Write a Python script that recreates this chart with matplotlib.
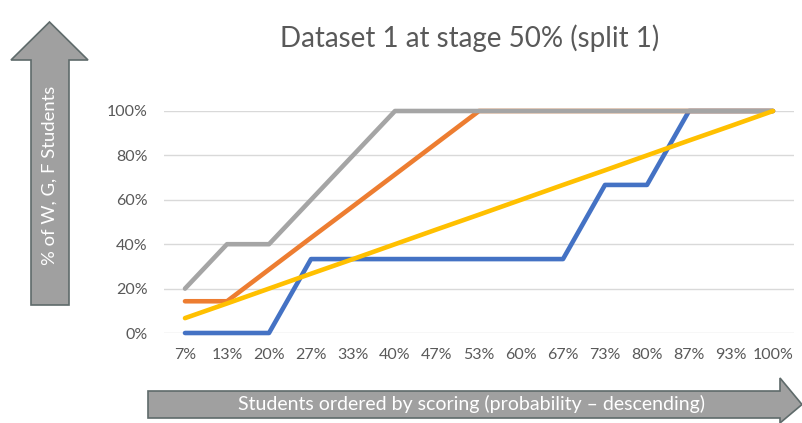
import matplotlib.pyplot as plt
from matplotlib.patches import Polygon

plt.rcParams['font.family'] = ['Lato', 'DejaVu Sans']

cats = ['7%', '13%', '20%', '27%', '33%', '40%', '47%', '53%', '60%', '67%',
        '73%', '80%', '87%', '93%', '100%']
blue = [0, 0, 0, 33.3, 33.3, 33.3, 33.3, 33.3, 33.3, 33.3, 66.7, 66.7, 100, 100, 100]
orange = [14.3, 14.3, 28.6, 42.9, 57.1, 71.4, 85.7, 100, 100, 100, 100, 100, 100, 100, 100]
grey = [20, 40, 40, 60, 80, 100, 100, 100, 100, 100, 100, 100, 100, 100, 100]
yellow = [6.7, 13.3, 20, 26.7, 33.3, 40, 46.7, 53.3, 60, 66.7, 73.3, 80, 86.7, 93.3, 100]

W, H = 803, 423
fig = plt.figure(figsize=(W/100, H/100), dpi=100)

# plot area in pixel coords
x0, x1, ytop, ybot = 164, 794, 111, 333
ax = fig.add_axes([x0/W, (H-ybot)/H, (x1-x0)/W, (ybot-ytop)/H])
x = list(range(len(cats)))
for s, c in [(blue, '#4472C4'), (orange, '#ED7D31'), (grey, '#A5A5A5'), (yellow, '#FFC000')]:
    ax.plot(x, s, color=c, lw=3.3, solid_capstyle='round', solid_joinstyle='round', clip_on=False, zorder=3)
ax.set_xlim(-0.5, len(cats)-0.5)
ax.set_ylim(0, 100)
ax.set_yticks([0, 20, 40, 60, 80, 100])
ax.set_yticklabels(['0%', '20%', '40%', '60%', '80%', '100%'])
ax.set_xticks(x)
ax.set_xticklabels(cats)
ax.tick_params(length=0, labelsize=11.5, labelcolor='#595959')
ax.tick_params(axis='y', pad=12)
ax.tick_params(axis='x', pad=11)
ax.grid(axis='y', color='#D9D9D9', lw=1)
for sp in ax.spines.values():
    sp.set_visible(False)
ax.set_axisbelow(True)

fig.text(470/W, 1-38/H, 'Dataset 1 at stage 50% (split 1)', ha='center', va='center',
         fontsize=20, color='#595959')

# arrows overlay
ov = fig.add_axes([0, 0, 1, 1])
ov.set_xlim(0, W)
ov.set_ylim(H, 0)
ov.axis('off')
up = [(31, 305), (31, 60), (11, 60), (49.5, 22), (88, 60), (69, 60), (69, 305)]
ov.add_patch(Polygon(up, closed=True, fc='#A0A0A0', ec='#5F6B6B', lw=1.2))
ov.text(50, 175, '% of W, G, F Students', rotation=90, ha='center', va='center',
        color='white', fontsize=13.3)
right = [(148, 391), (780, 391), (780, 378), (802, 404.5), (780, 423), (780, 418), (148, 418)]
ov.add_patch(Polygon(right, closed=True, fc='#A0A0A0', ec='#5F6B6B', lw=1.2))
ov.text(472, 404, 'Students ordered by scoring (probability \u2013 descending)', ha='center',
        va='center', color='white', fontsize=14)

fig.savefig('out.png', dpi=100)
